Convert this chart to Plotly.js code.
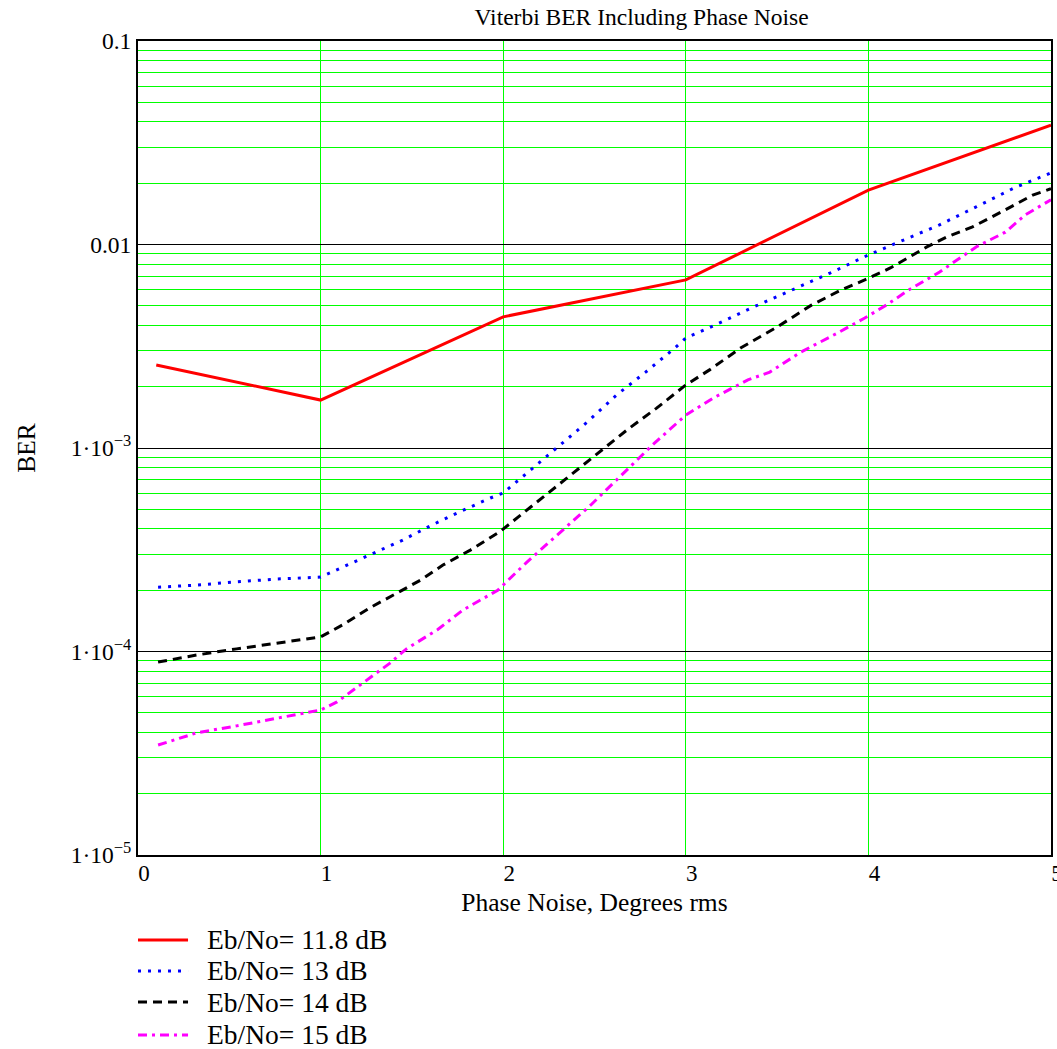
<!DOCTYPE html>
<html>
<head>
<meta charset="utf-8">
<script src="https://cdn.plot.ly/plotly-3.0.1.min.js"></script>
<style>body{margin:0;padding:0;background:#fff}</style>
</head>
<body>
<div id="chart" style="width:1057px;height:1049px"></div>
<script>
const seriesNames = ["Eb/No= 11.8 dB", "Eb/No= 13 dB", "Eb/No= 14 dB", "Eb/No= 15 dB"];

const x118 = [0.1, 1, 2, 3, 4, 5];
const ber118 = [2.56e-3, 1.72e-3, 4.41e-3, 6.70e-3, 1.85e-2, 3.86e-2];

const x13 = [0.11, 0.32, 0.54, 0.76, 1.0, 1.12, 1.29, 1.45, 1.60, 1.76, 1.93, 2.0, 2.15, 2.30, 2.46, 2.62, 2.78, 2.94, 3.0, 3.16, 3.36, 3.58, 3.79, 4.0, 4.16, 4.39, 4.59, 4.80, 5.0];
const ber13 = [2.07e-4, 2.12e-4, 2.20e-4, 2.27e-4, 2.32e-4, 2.60e-4, 3.05e-4, 3.53e-4, 4.14e-4, 4.85e-4, 5.68e-4, 6.01e-4, 7.80e-4, 1.01e-3, 1.34e-3, 1.82e-3, 2.36e-3, 3.10e-3, 3.47e-3, 4.02e-3, 4.88e-3, 5.97e-3, 7.24e-3, 8.88e-3, 1.02e-2, 1.25e-2, 1.53e-2, 1.90e-2, 2.25e-2];

const x14 = [0.11, 0.32, 0.54, 0.74, 0.90, 1.0, 1.12, 1.27, 1.42, 1.55, 1.67, 1.82, 1.98, 2.13, 2.55, 2.68, 2.84, 3.0, 3.13, 3.30, 3.50, 3.69, 3.85, 3.98, 4.12, 4.32, 4.43, 4.57, 4.75, 4.90, 5.0];
const ber14 = [8.87e-5, 9.61e-5, 1.03e-4, 1.09e-4, 1.14e-4, 1.18e-4, 1.35e-4, 1.64e-4, 1.94e-4, 2.25e-4, 2.66e-4, 3.15e-4, 3.87e-4, 4.96e-4, 1.00e-3, 1.23e-3, 1.57e-3, 2.04e-3, 2.42e-3, 3.10e-3, 3.93e-3, 5.05e-3, 5.97e-3, 6.70e-3, 7.67e-3, 9.73e-3, 1.09e-2, 1.22e-2, 1.48e-2, 1.75e-2, 1.88e-2];

const x15 = [0.11, 0.32, 0.54, 0.74, 0.90, 1.0, 1.09, 1.23, 1.38, 1.47, 1.64, 1.78, 1.97, 2.13, 2.48, 2.82, 3.0, 3.15, 3.34, 3.46, 3.63, 3.83, 3.98, 4.10, 4.22, 4.39, 4.59, 4.75, 4.86, 5.0];
const ber15 = [3.47e-5, 3.98e-5, 4.31e-5, 4.66e-5, 4.99e-5, 5.16e-5, 5.65e-5, 7.00e-5, 8.77e-5, 1.03e-4, 1.28e-4, 1.60e-4, 2.00e-4, 2.75e-4, 5.25e-4, 1.04e-3, 1.45e-3, 1.76e-3, 2.16e-3, 2.36e-3, 2.96e-3, 3.67e-3, 4.35e-3, 5.05e-3, 5.97e-3, 7.33e-3, 9.73e-3, 1.15e-2, 1.40e-2, 1.66e-2];

const yTickVals = [1e-5, 1e-4, 1e-3, 0.01, 0.1];
const yTickText = ["1\u00b710<sup>\u22125</sup>", "1\u00b710<sup>\u22124</sup>", "1\u00b710<sup>\u22123</sup>", "0.01", "0.1"];
const xTickVals = [0, 1, 2, 3, 4, 5];

const FONT = "Liberation Serif, Times New Roman, serif";

const lineStyles = [
  {color: "#ff0000", width: 3},
  {color: "#0000ff", width: 3, dash: "3px,7px"},
  {color: "#000000", width: 3, dash: "9px,6px"},
  {color: "#ff00ff", width: 3, dash: "9px,5px,3px,5px"}
];
const xs = [x118, x13, x14, x15];
const ys = [ber118, ber13, ber14, ber15];

const traces = xs.map((x, i) => ({x: x, y: ys[i], name: seriesNames[i], mode: "lines", line: lineStyles[i], showlegend: false}));

// manual legend (paper coordinates below the plot)
const legendRowsY = [-0.1044, -0.1425, -0.1806, -0.2211];
const shapes = [];
const annotations = [];
seriesNames.forEach((name, i) => {
  shapes.push({type: "line", xref: "paper", yref: "paper", x0: 0, x1: 0.0548,
               y0: legendRowsY[i], y1: legendRowsY[i], line: Object.assign({}, lineStyles[i])});
  annotations.push({text: name, xref: "paper", yref: "paper", x: 0.0734, xanchor: "left",
                    y: legendRowsY[i], yanchor: "middle", showarrow: false,
                    font: {family: FONT, size: 27.5, color: "#000"}});
});

const layout = {
  width: 1057, height: 1049,
  margin: {l: 138, r: 6, t: 41, b: 194, autoexpand: false},
  paper_bgcolor: "#fff", plot_bgcolor: "#fff",
  font: {family: FONT, size: 23, color: "#000"},
  title: {text: "Viterbi BER Including Phase Noise", font: {family: FONT, size: 23.5, color: "#000"},
          x: 0.607, xanchor: "center", y: 0.984, yanchor: "middle", yref: "container"},
  showlegend: false,
  shapes: shapes,
  annotations: annotations,
  xaxis: {
    range: [0, 5], tickvals: xTickVals, ticktext: xTickVals.map(String),
    showgrid: true, gridcolor: "#00ff00", gridwidth: 1, zeroline: false,
    showline: true, linecolor: "#000", linewidth: 2, mirror: true,
    ticks: "", ticklabelshift: 6, ticklabelstandoff: -4, ticklabeloverflow: "allow",
    tickfont: {family: FONT, size: 23},
    title: {text: "Phase Noise, Degrees rms", font: {family: FONT, size: 25.5}, standoff: 9}
  },
  yaxis: {
    type: "log", range: [-5, -1], tickvals: yTickVals, ticktext: yTickText,
    showgrid: true, gridcolor: "#000", gridwidth: 1, zeroline: false,
    showline: true, linecolor: "#000", linewidth: 2, mirror: true,
    ticks: "", ticklabelstandoff: 0,
    tickfont: {family: FONT, size: 23.5},
    minor: {dtick: "D1", showgrid: true, gridcolor: "#00ff00", gridwidth: 1, ticks: ""},
    title: {text: "BER", font: {family: FONT, size: 25.5}, standoff: 28}
  }
};

Plotly.newPlot("chart", traces, layout, {displayModeBar: false, staticPlot: true});
</script>
</body>
</html>
